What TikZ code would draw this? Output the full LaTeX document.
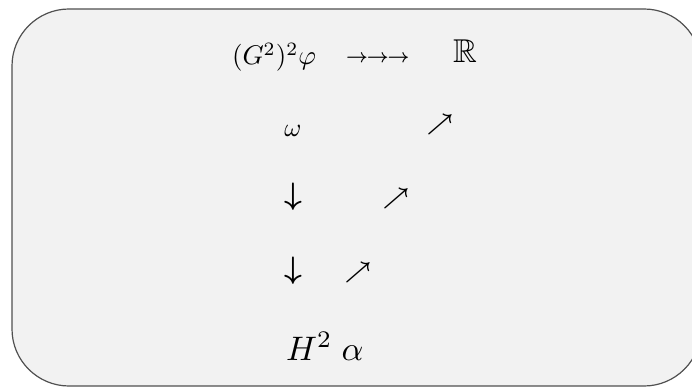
\documentclass[tikz,border=0pt]{standalone}
\usepackage{graphicx}
\usepackage{amsmath,amssymb}
\definecolor{panelfill}{HTML}{F2F2F2}
\definecolor{panelline}{HTML}{505050}
\begin{document}
\begin{tikzpicture}[x=1pt,y=-1pt,
  lbl/.style={inner sep=0pt,outer sep=0pt,text=black,font=\fontsize{10}{12}\selectfont}]
\useasboundingbox (0,0) rectangle (692,387);
\begin{scope}
\clip (0,0) rectangle (692,387);
\draw[fill=panelfill,draw=panelline,line width=1.2pt,rounded corners=57pt] (12,9) rectangle (701,386);
\end{scope}
% top row
\node[lbl,anchor=base west] (g) at (232,65) {\scalebox{2.7}{$(G^2)^2\varphi$}};
\node[lbl,anchor=base west] (arrs) at (346,63) {\scalebox{1.9}{$\boldsymbol{\rightarrow}\mkern-1mu\boldsymbol{\rightarrow}\mkern-1mu\boldsymbol{\rightarrow}$}};
\node[lbl,anchor=base west] (R) at (453,63) {\scalebox{3.3}{$\mathbb{R}$}};
% second row
\node[lbl,anchor=base] (omega) at (293,137) {\scalebox{2.6}{$\omega$}};
\node[lbl] (ne1) at (440,125) {\scalebox{2.3}{$\boldsymbol{\nearrow}$}};
% third row
\node[lbl] (d1) at (293,197) {\scalebox{3.1}{$\boldsymbol{\downarrow}$}};
\node[lbl] (ne2) at (396,199) {\scalebox{2.3}{$\boldsymbol{\nearrow}$}};
% fourth row
\node[lbl] (d2) at (293,271) {\scalebox{3.1}{$\boldsymbol{\downarrow}$}};
\node[lbl] (ne3) at (358,273) {\scalebox{2.3}{$\boldsymbol{\nearrow}$}};
% bottom
\node[lbl,anchor=base west] (H) at (286,360) {\scalebox{3.4}{$H^2\;\alpha$}};
\end{tikzpicture}
\end{document}
